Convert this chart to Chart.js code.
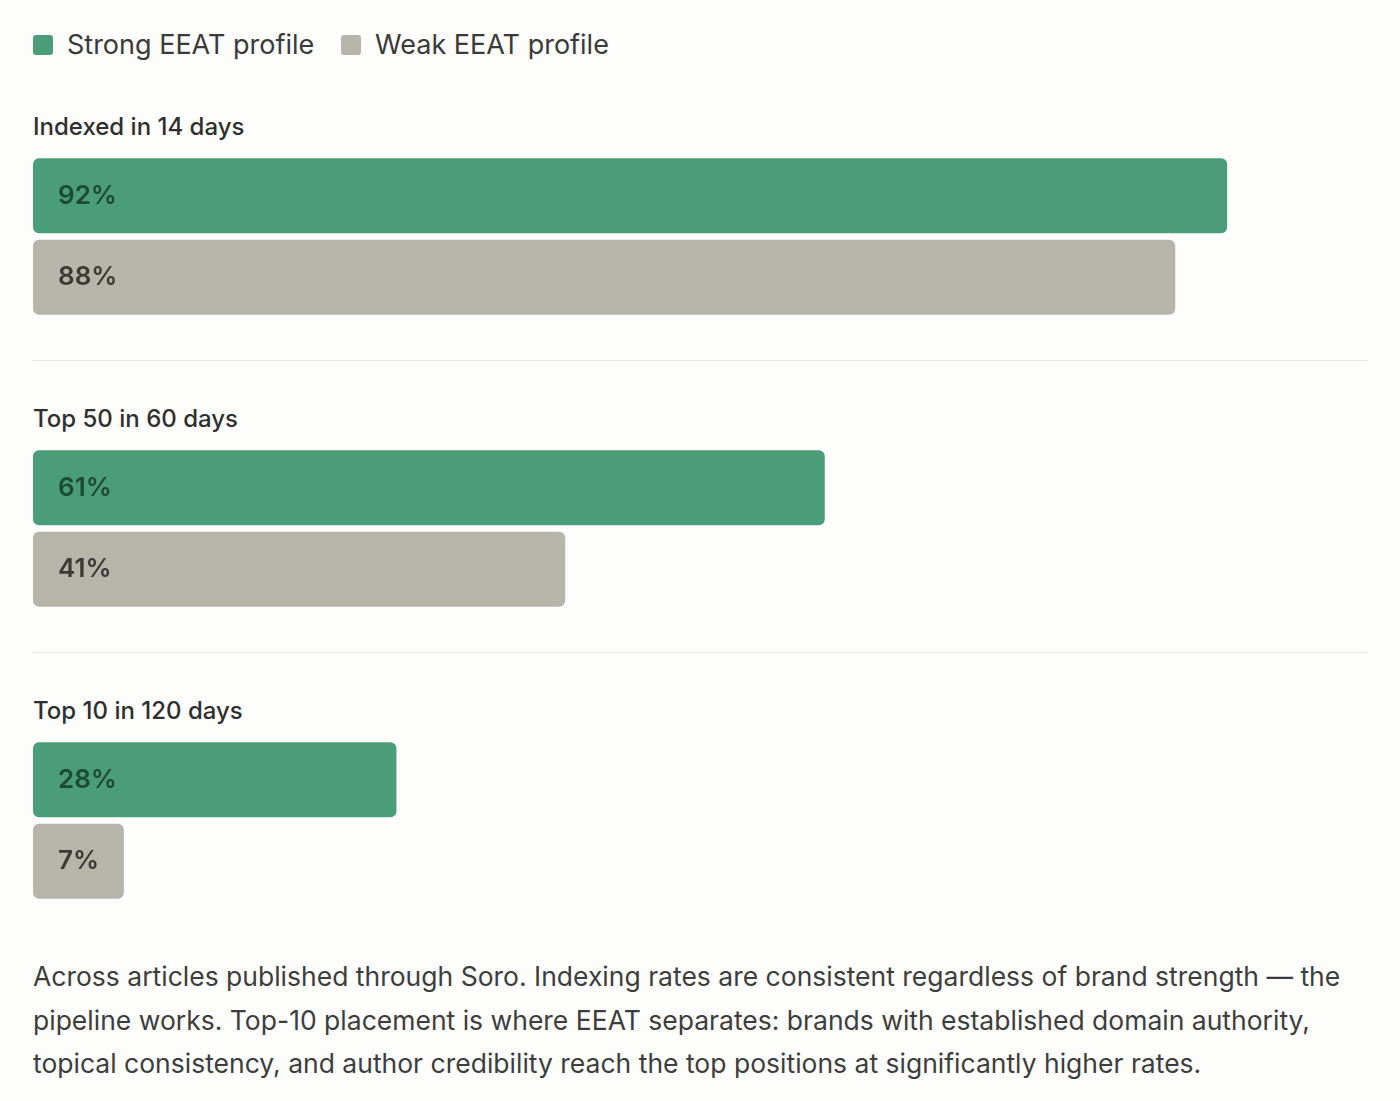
<!DOCTYPE html>
<html><head><meta charset="utf-8">
<script src="https://cdn.jsdelivr.net/npm/chart.js@4"></script>
<style>
body{margin:0;background:#fdfdfc;font-family:Inter,"Noto Sans",sans-serif;color:#333;}
.abs{position:absolute}
.leg{top:28px;font-size:27px;color:#3a3a3a;display:flex;align-items:center}
.sq{width:20px;height:20px;border-radius:3px;display:inline-block;margin-right:14px}
.title{left:33px;font-size:24px;color:#2f2f2f;font-weight:500}
.div{left:33px;width:1334px;height:1px;background:#e4e4e2}
.cw{left:33px;width:1298px;height:163px}
.foot{left:33px;top:955px;width:1340px;font-size:26.5px;line-height:43.5px;color:#3d3d3d}
</style></head><body>
<div class="abs leg" style="left:33px"><span class="sq" style="background:#4a9d78"></span>Strong EEAT profile</div>
<div class="abs leg" style="left:341px"><span class="sq" style="background:#b5b5aa"></span>Weak EEAT profile</div>
<div class="abs title" style="top:112px">Indexed in 14 days</div>
<div class="abs cw" style="top:155px"><canvas id="c0"></canvas></div>
<div class="abs div" style="top:360px"></div>
<div class="abs title" style="top:404px">Top 50 in 60 days</div>
<div class="abs cw" style="top:447px"><canvas id="c1"></canvas></div>
<div class="abs div" style="top:652px"></div>
<div class="abs title" style="top:696px">Top 10 in 120 days</div>
<div class="abs cw" style="top:739px"><canvas id="c2"></canvas></div>
<div class="abs foot">Across articles published through Soro. Indexing rates are consistent regardless of brand strength — the pipeline works. Top-10 placement is where EEAT separates: brands with established domain authority, topical consistency, and author credibility reach the top positions at significantly higher rates.</div>
<script>
const groups=["Indexed in 14 days","Top 50 in 60 days","Top 10 in 120 days"];
const seriesNames=["Strong EEAT profile","Weak EEAT profile"];
const strong=[92,61,28];
const weak=[88,41,7];
const colors=["#4a9d78","#b5b5aa"];
const labelColors=["#1d4a34","#3b3b36"];
const labelPlugin={id:"lbl",afterDatasetsDraw(ch){const ctx=ch.ctx;const meta=ch.getDatasetMeta(0);
ctx.save();ctx.font="600 26px Inter, 'Noto Sans', sans-serif";ctx.textBaseline="middle";
meta.data.forEach((b,i)=>{ctx.fillStyle=labelColors[i];ctx.fillText(ch.data.datasets[0].data[i]+"%",25,b.y);});ctx.restore();}};
groups.forEach((g,k)=>{
new Chart(document.getElementById("c"+k),{type:"bar",
data:{labels:seriesNames,datasets:[{data:[strong[k],weak[k]],backgroundColor:colors,borderRadius:6,borderSkipped:false,barPercentage:0.92,categoryPercentage:1}]},
options:{indexAxis:"y",responsive:true,maintainAspectRatio:false,animation:false,layout:{padding:0},
plugins:{legend:{display:false},tooltip:{enabled:false}},
scales:{x:{min:0,max:100,display:false},y:{display:false}}},plugins:[labelPlugin]});
});
</script></body></html>
